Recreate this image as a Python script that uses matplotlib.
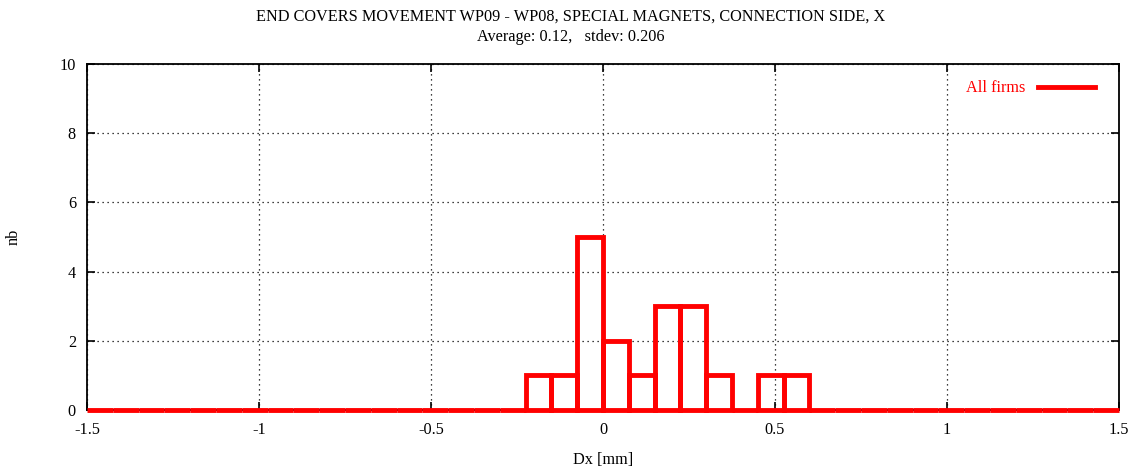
import matplotlib
matplotlib.use("Agg")
import matplotlib.pyplot as plt
import numpy as np

# Histogram data
bin_start = -1.5
bin_width = 0.075
counts = [0]*17 + [1, 1, 5, 2, 1, 3, 3, 1, 0, 1, 1] + [0]*12
series_label = "All firms"
title_lines = ["END COVERS MOVEMENT WP09 - WP08, SPECIAL MAGNETS, CONNECTION SIDE, X",
               "Average: 0.12,   stdev: 0.206"]
xticks = [-1.5, -1, -0.5, 0, 0.5, 1, 1.5]
xtick_labels = ["-1.5", "-1", "-0.5", "0", "0.5", "1", "1.5"]
yticks = [0, 2, 4, 6, 8, 10]

plt.rcParams['font.family'] = ['Liberation Serif', 'DejaVu Serif']
fs = 11.7

fig = plt.figure(figsize=(11.41, 4.72), dpi=100)
ax = fig.add_axes([87/1141, 1-410/472, (1119-87)/1141, (410-64)/472])

centers = bin_start + bin_width*(np.arange(len(counts)) + 0.5)
ax.bar(centers, counts, width=bin_width, fill=False, edgecolor='#ff0000',
       linewidth=3.5, zorder=3, clip_on=False)
ax.plot([], [], color='#ff0000', linewidth=3.5, label=series_label)

ax.set_xlim(-1.5, 1.5)
ax.set_ylim(0, 10)
ax.set_xticks(xticks)
ax.set_xticklabels(xtick_labels)
ax.set_yticks(yticks)
ax.tick_params(direction='in', top=True, right=True, length=6, width=1.2,
               labelsize=fs)
ax.tick_params(axis='x', pad=9)
ax.tick_params(axis='y', pad=8)
ax.grid(True, linestyle=(0, (1, 3)), color='black', linewidth=0.9)
for s in ax.spines.values():
    s.set_linewidth(1.3)

ax.set_xlabel("Dx [mm]", fontsize=fs, va='center')
ax.xaxis.set_label_coords(0.5, -(460-410)/346)
ax.set_ylabel("nb", fontsize=fs)
ax.yaxis.set_label_coords(-(87-22)/1032, 0.5)
fig.text(0.5, 1-17/472, title_lines[0], ha='center', va='center', fontsize=fs)
fig.text(0.5, 1-37/472, title_lines[1], ha='center', va='center', fontsize=fs)

leg = ax.legend(loc='upper right', bbox_to_anchor=(1 - 8/1032, 1),
                frameon=False, markerfirst=False,
                labelcolor='#ff0000', fontsize=fs, handlelength=3.5,
                handletextpad=0.8, borderaxespad=0.6)

fig.savefig("out.png", dpi=100)
